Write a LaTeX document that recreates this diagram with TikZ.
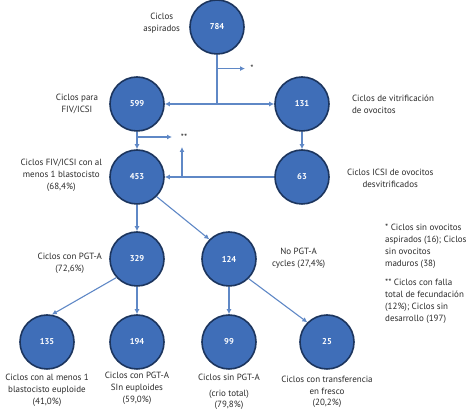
\documentclass[tikz,border=0pt]{standalone}
\usepackage{fontspec}
\setmainfont{PT Sans}
\usepackage{xcolor}
\usetikzlibrary{arrows.meta,positioning,calc}
\definecolor{cyclefill}{HTML}{3F6EB8}
\definecolor{cycleedge}{HTML}{1C355E}
\definecolor{linkblue}{HTML}{5F88C6}
\definecolor{labelgray}{HTML}{2A2A2A}
\begin{document}
\begin{tikzpicture}[
  x=1pt,y=-1pt,
  node distance=8pt,
  cycle/.style={circle,draw=cycleedge,line width=1.6pt,fill=cyclefill,
                minimum size=54pt,inner sep=0pt,text=white,
                font=\fontsize{8.5}{9}\selectfont\bfseries},
  lbl/.style={align=center,text=labelgray,inner sep=1pt,
              font=\fontsize{9}{12}\selectfont},
  note/.style={align=left,text=labelgray,inner sep=0pt,anchor=north west,
               font=\fontsize{9}{11.8}\selectfont},
  flow/.style={-{Latex[length=5pt,width=5pt]},draw=linkblue,line width=1.1pt},
  link/.style={draw=linkblue,line width=1.1pt}
]
\useasboundingbox (0,0) rectangle (475,419);
% cycles
\node[cycle] (aspirados) at (217,27) {784};
\node[cycle] (fiv) at (137,104) {599};
\node[cycle] (vitri) at (302,104) {131};
\node[cycle] (blasto) at (137,177) {453};
\node[cycle] (desvitri) at (302,177) {63};
\node[cycle] (pgta) at (137,259) {329};
\node[cycle] (nopgta) at (229,259) {124};
\node[cycle] (euploide) at (47,342) {135};
\node[cycle] (sineuploide) at (137,342) {194};
\node[cycle] (criototal) at (229,342) {99};
\node[cycle] (fresco) at (327,342) {25};
% labels
\node[lbl,left=8pt of aspirados,yshift=4pt] (labAsp) {Ciclos\\aspirados};
\node[lbl,left=10pt of fiv,yshift=0pt] (labFiv) {Ciclos para\\FIV/ICSI};
\node[lbl,right=21pt of vitri,align=left] (labVitri) {Ciclos de vitrificación\\de ovocitos};
\node[lbl,left=6pt of blasto,yshift=2pt] (labBlasto) {Ciclos FIV/ICSI con al\\menos 1 blastocisto\\(68,4\%)};
\node[lbl,right=16pt of desvitri,yshift=-1pt] (labDesvitri) {Ciclos ICSI de ovocitos\\desvitrificados};
\node[lbl,left=6pt of pgta,yshift=-4pt] (labPgta) {Ciclos con PGT-A\\(72,6\%)};
\node[lbl,right=14pt of nopgta,yshift=1pt] (labNopgta) {No PGT-A\\cycles (27,4\%)};
\node[lbl,below=3pt of euploide] (labEuploide) {Ciclos con al menos 1\\blastocisto euploide\\(41,0\%)};
\node[lbl,below=1pt of sineuploide] (labSineuploide) {Ciclos con PGT-A\\SIn euploides\\(59,0\%)};
\node[lbl,below=3pt of criototal] (labCrio) {Ciclos sin PGT-A\\[4pt](crio total)\\[-1pt](79,8\%)};
\node[lbl,below=5pt of fresco] (labFresco) {Ciclos con transferencia\\en fresco\\[-1pt](20,2\%)};
\node[note] (notaUno) at (385,224) {* Ciclos sin ovocitos\\aspirados (16); Ciclos\\sin ovocitos\\maduros (38)};
\node[note,below=11pt of notaUno.south west,anchor=north west] (notaDos) {** Ciclos con falla\\total de fecundación\\(12\%); Ciclos sin\\desarrollo (197)};
% junctions
\coordinate (splitAsp) at (aspirados|-fiv);
\coordinate (tapAsp) at ($(aspirados.south)!0.28!(splitAsp)$);
\node[lbl,inner sep=0pt] (starOne) at (252,68) {*};
\node[lbl,inner sep=0pt] (starTwo) at (184,137) {**};
\coordinate (tapFiv) at (137,137);
\coordinate (tapDes) at (182,177);
% connectors
\draw[link] (aspirados) -- (splitAsp);
\draw[flow] (splitAsp) -- (fiv);
\draw[flow] (splitAsp) -- (vitri);
\draw[flow] (tapAsp) -- ++(28,0);
\draw[flow] (fiv) -- (blasto);
\draw[flow] (tapFiv) -- ++(35,0);
\draw[flow] (vitri) -- (desvitri);
\draw[flow] (desvitri) -- (blasto);
\draw[flow] (tapDes) -- ++(0,-30);
\draw[flow] (blasto) -- (pgta);
\draw[flow] (blasto.-45) -- (nopgta.135);
\draw[flow] (pgta.222) -- (euploide.80);
\draw[flow] (pgta) -- (sineuploide);
\draw[flow] (nopgta) -- (criototal);
\draw[flow] (nopgta.-45) -- (fresco.135);
\end{tikzpicture}
\end{document}
